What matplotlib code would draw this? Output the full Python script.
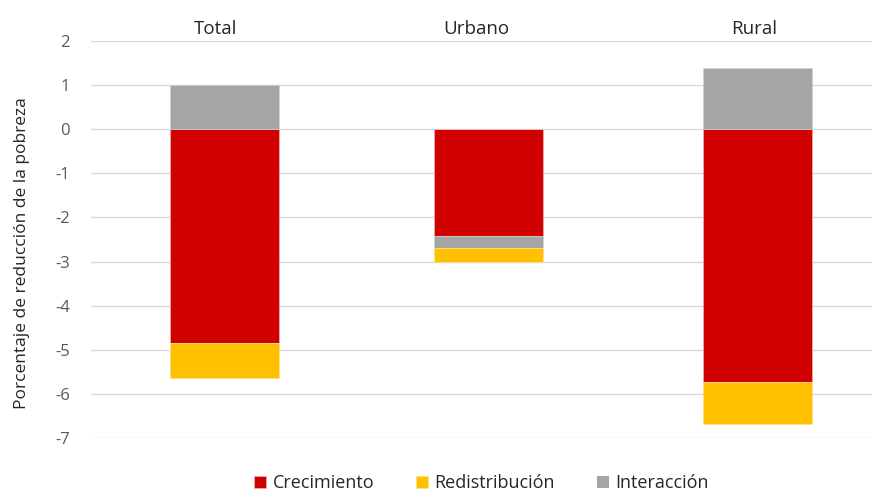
import numpy as np
import matplotlib
matplotlib.use("Agg")
import matplotlib.pyplot as plt

plt.rcParams['font.family'] = ['Open Sans', 'DejaVu Sans']

categorias = ['Total', 'Urbano', 'Rural']
crecimiento = [-4.85, -2.41, -5.73]
redistribucion = [-0.80, -0.30, -0.95]
interaccion = [1.0, -0.29, 1.38]

col_crec = '#D00000'
col_redis = '#FFC000'
col_inter = '#A5A5A5'

x = np.array([0, 0.995, 2.01])
w = 0.41

fig = plt.figure(figsize=(8.72, 4.91), dpi=100)
ax = fig.add_axes([0.104, 0.108, 0.896, 0.8085])

crec = np.array(crecimiento)
red = np.array(redistribucion)
inter = np.array(interaccion)

# parte negativa apilada hacia abajo: crecimiento, luego interacción (si es negativa), luego redistribución
ax.bar(x, crec, w, color=col_crec, edgecolor='#F2B0B0', linewidth=0.5, label='Crecimiento', zorder=3)
inter_neg = np.where(inter < 0, inter, 0)
inter_pos = np.where(inter > 0, inter, 0)
ax.bar(x, inter_pos, w, bottom=0, color=col_inter, edgecolor='#D0D0D0', linewidth=0.5, zorder=3)
ax.bar(x, inter_neg, w, bottom=crec, color=col_inter, edgecolor='#D0D0D0', linewidth=0.5, zorder=3)
ax.bar(x, red, w, bottom=crec + inter_neg, color=col_redis, edgecolor='#FFE08A', linewidth=0.5,
       label='Redistribución', zorder=3)
ax.bar([np.nan], [0], w, color=col_inter, label='Interacción')

ax.set_ylim(-7, 2)
ax.set_xlim(-0.504, 2.44)
ax.set_yticks(range(-7, 3))
ax.set_yticklabels([str(v) for v in range(-7, 3)], fontsize=12, color='#595959')
ax.yaxis.grid(True, color='#D9D9D9', linewidth=1, zorder=0)
ax.set_axisbelow(True)
ax.tick_params(axis='y', length=0, pad=15)
ax.xaxis.tick_top()
ax.set_xticks(x + np.array([-0.034, -0.045, -0.015]))
ax.set_xticklabels(categorias, fontsize=13.5, color='#262626')
ax.tick_params(axis='x', length=0, pad=2)
for s in ax.spines.values():
    s.set_visible(False)

ax.set_ylabel('Porcentaje de reducción de la pobreza', fontsize=12.5, color='#262626')
ax.yaxis.set_label_coords(-0.078, 0.466)

fig.legend(loc='center', bbox_to_anchor=(0.552, 0.016), ncol=3, frameon=False, fontsize=13,
           handlelength=0.7, handleheight=0.7, handletextpad=0.35, columnspacing=2.3,
           labelcolor='#262626')

fig.savefig('out.png', dpi=100)
